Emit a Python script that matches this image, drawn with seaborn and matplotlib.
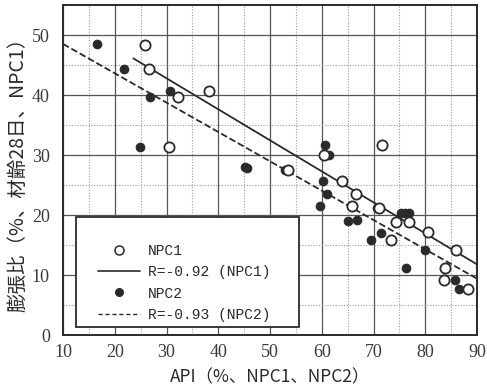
import numpy as np
import pandas as pd
import matplotlib
matplotlib.use("Agg")
import matplotlib.pyplot as plt
from matplotlib.lines import Line2D
from matplotlib.patches import Rectangle
from matplotlib.ticker import MultipleLocator
import seaborn as sns

# NPC1 (open circles): API (%) vs expansion ratio at 28 days (%)
npc1_api = [25.8, 26.6, 30.5, 32.2, 38.3, 53.5, 60.4, 64.0, 65.8, 66.6,
            71.0, 71.6, 73.4, 74.3, 76.9, 80.6, 83.6, 83.8, 85.9, 88.3]
npc1_exp = [48.4, 44.3, 31.4, 39.6, 40.7, 27.5, 30.0, 25.6, 21.5, 23.5,
            21.1, 31.7, 15.8, 18.9, 18.8, 17.1, 9.2, 11.1, 14.2, 7.7]

# NPC2 (filled circles)
npc2_api = [16.6, 21.7, 24.9, 26.8, 30.6, 45.25, 45.5, 52.9, 59.7, 60.2,
            60.6, 61.0, 61.4, 65.1, 66.9, 69.5, 70.6, 71.4, 75.3, 76.0,
            76.8, 76.3, 80.0, 85.7, 86.5]
npc2_exp = [48.5, 44.3, 31.4, 39.6, 40.7, 28.05, 27.85, 27.5, 21.5, 25.7,
            31.7, 23.5, 30.0, 19.0, 19.1, 15.8, 21.2, 17.0, 20.3, 20.4,
            20.3, 11.1, 14.2, 9.1, 7.7]

# Regression lines: slope, intercept, x-range
fit1_slope, fit1_icpt, fit1_range = -0.517, 58.3, [23.6, 90.0]
fit2_slope, fit2_icpt, fit2_range = -0.489, 53.4, [10.0, 90.0]

legend_labels = ["NPC1", "R=-0.92 (NPC1)", "NPC2", "R=-0.93 (NPC2)"]
x_label = "API（%、NPC1、NPC2）"
y_label = "膨張比（%、材齢28日、NPC1）"

sns.set_theme(style="white")
plt.rcParams["font.family"] = ["Liberation Serif", "Noto Sans CJK JP"]

ink = "#2a2a2a"
fig, ax = plt.subplots(figsize=(4.87, 3.92), dpi=100)
fig.subplots_adjust(left=0.1294, right=0.9795, top=0.9872, bottom=0.1454)

df1 = pd.DataFrame({"api": npc1_api, "exp": npc1_exp})
df2 = pd.DataFrame({"api": npc2_api, "exp": npc2_exp})

# regression lines
for slope, icpt, rng, ls in [(fit1_slope, fit1_icpt, fit1_range, "-"),
                             (fit2_slope, fit2_icpt, fit2_range, "--")]:
    xs = np.array(rng)
    line_df = pd.DataFrame({"x": xs, "y": slope * xs + icpt})
    sns.lineplot(data=line_df, x="x", y="y", ax=ax, color=ink, lw=1.3,
                 linestyle=ls, zorder=3, legend=False)

sns.scatterplot(data=df2, x="api", y="exp", ax=ax, s=38, color=ink,
                edgecolor=ink, linewidth=0.8, zorder=4, legend=False)
sns.scatterplot(data=df1, x="api", y="exp", ax=ax, s=54, facecolor="white",
                edgecolor=ink, linewidth=1.3, zorder=5, legend=False)

ax.set_xlim(10, 90)
ax.set_ylim(0, 55)
ax.xaxis.set_major_locator(MultipleLocator(10))
ax.xaxis.set_minor_locator(MultipleLocator(5))
ax.yaxis.set_major_locator(MultipleLocator(10))
ax.yaxis.set_minor_locator(MultipleLocator(5))
ax.grid(True, which="major", color="#555555", lw=0.9, ls="-")
ax.grid(True, which="minor", color="#999999", lw=0.8, ls=(0, (1, 1.5)))
ax.set_axisbelow(True)

for sp in ax.spines.values():
    sp.set_color(ink)
    sp.set_linewidth(1.4)

ax.tick_params(axis="both", which="major", labelsize=13, colors="#3a3a3a",
               length=6, width=1.1, direction="out")
ax.tick_params(axis="both", which="minor", length=3, width=0.9,
               color=ink, direction="out")
ax.tick_params(axis="x", which="both", direction="inout")

ax.set_xlabel(x_label, fontsize=12.5, family=["Noto Sans CJK JP"], color=ink)
ax.set_ylabel(y_label, fontsize=14, family=["Noto Sans CJK JP"], color=ink)
ax.xaxis.set_label_coords(0.5, -0.1)
ax.yaxis.set_label_coords(-0.084, 0.5)

# legend box
ax.add_patch(Rectangle((0.0314, 0.0242), 0.5386, 0.333, transform=ax.transAxes,
                       facecolor="white", edgecolor=ink, lw=1.3, zorder=6))
handles = [
    Line2D([], [], marker="o", ls="none", markersize=6.5, markerfacecolor="white",
           markeredgecolor=ink, markeredgewidth=1.1),
    Line2D([], [], color=ink, lw=1.2, ls="-"),
    Line2D([], [], marker="o", ls="none", markersize=5.5, markerfacecolor=ink,
           markeredgecolor=ink),
    Line2D([], [], color=ink, lw=1.0, ls=(0, (3, 2))),
]
leg = ax.legend(handles, legend_labels, loc="upper left",
                bbox_to_anchor=(0.0845, 0.2758), frameon=False,
                prop={"family": "Liberation Mono", "size": 10.5},
                handlelength=2.9, handletextpad=0.55, labelspacing=0.5,
                borderpad=0, borderaxespad=0)
leg.set_zorder(7)
for t in leg.get_texts():
    t.set_color(ink)

fig.savefig("out.png", dpi=100)
